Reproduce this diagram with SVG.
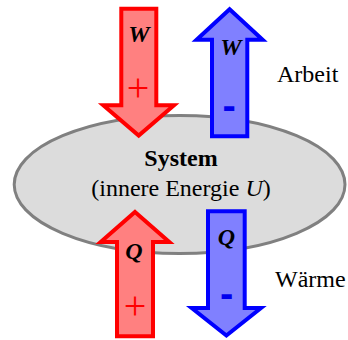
<svg xmlns="http://www.w3.org/2000/svg" width="348" height="340" viewBox="0 0 348 340">
<style>
.red{fill:#ff8080;stroke:#ff0000;stroke-width:4;stroke-linejoin:miter}
.blue{fill:#8080ff;stroke:#0000ff;stroke-width:4;stroke-linejoin:miter}
.sym{font-family:"Liberation Serif",serif;font-weight:bold;font-style:italic;font-size:24px;fill:#000;text-anchor:middle}
.plus{font-family:"Liberation Serif",serif;font-size:40px;fill:#ff0000;text-anchor:middle}
.minus{font-family:"Liberation Sans",sans-serif;font-weight:bold;font-size:40px;fill:#0000ee;text-anchor:middle}
.lbl{font-family:"Liberation Serif",serif;font-size:24px;fill:#000}
</style>
<g id="system">
<ellipse cx="179.6" cy="184.5" rx="165.4" ry="69" fill="#dcdcdc" stroke="#808080" stroke-width="3"/>
<text class="lbl" x="181" y="166" text-anchor="middle" font-weight="bold">System</text>
<text class="lbl" x="181" y="196" text-anchor="middle">(innere Energie <tspan font-style="italic">U</tspan>)</text>
</g>
<g id="connectors">
<g id="work-in">
<path class="red" d="M121.3,8.7 L156.3,8.7 L156.3,105.3 L174,105.3 L138.7,135.5 L103.3,105.3 L121.3,105.3 Z"/>
<text class="sym" x="139" y="41.5">W</text>
<text class="plus" x="138" y="101">+</text>
</g>
<g id="work-out">
<path class="blue" d="M229.6,9.3 L262.6,39.7 L247.3,39.7 L247.3,136.3 L212,136.3 L212,39.7 L196.6,39.7 Z"/>
<text class="sym" x="231" y="55">W</text>
<text class="minus" x="229.2" y="118.5">-</text>
</g>
<g id="heat-in">
<path class="red" d="M135,212 L169.3,242 L153,242 L153,336.3 L117,336.3 L117,242 L100.7,242 Z"/>
<text class="sym" x="134" y="259">Q</text>
<text class="plus" x="135" y="318.5">+</text>
</g>
<g id="heat-out">
<path class="blue" d="M208,211.3 L244.7,211.3 L244.7,308 L261,308 L226.4,335.5 L191.7,308 L208,308 Z"/>
<text class="sym" x="226.5" y="244.5">Q</text>
<text class="minus" x="226.7" y="306.6">-</text>
</g>
</g>
<g id="labels">
<text class="lbl" x="277" y="82">Arbeit</text>
<text class="lbl" x="275" y="287">Wärme</text>
</g>
</svg>
